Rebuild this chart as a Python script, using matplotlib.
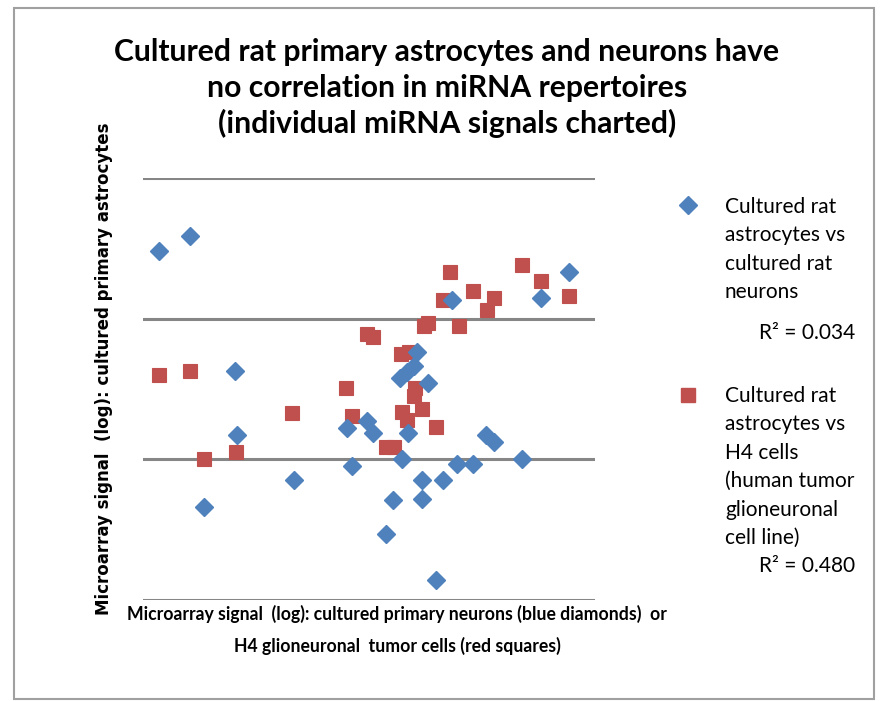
import matplotlib.pyplot as plt
from matplotlib.lines import Line2D
from matplotlib.patches import Rectangle

# neurons (blue diamonds), log signal, arbitrary units
neuron_x = [0.11, 0.33, 0.65, 0.67, 0.43, 1.07, 1.45, 1.48, 1.59, 1.63, 1.72,
            1.77, 1.84, 1.88, 1.82, 1.87, 1.92, 1.94, 2.02, 1.98, 1.98, 2.08,
            2.13, 2.19, 2.23, 2.34, 2.43, 2.49, 2.69, 2.82, 3.02]
neuron_y = [2.48, 2.59, 1.63, 1.17, 0.66, 0.85, 1.22, 0.95, 1.27, 1.19, 0.47,
            0.71, 1.00, 1.19, 1.58, 1.62, 1.66, 1.76, 1.54, 0.85, 0.72, 0.14,
            0.85, 2.13, 0.97, 0.97, 1.17, 1.12, 1.00, 2.15, 2.33]

# H4 cells (red squares)
h4_x = [0.11, 0.33, 0.43, 0.66, 1.06, 1.44, 1.48, 1.59, 1.63, 1.72, 1.78,
        1.83, 1.89, 1.93, 1.92, 1.84, 1.87, 1.98, 2.08, 1.99, 2.02, 2.13,
        2.18, 2.24, 2.34, 2.44, 2.49, 2.69, 2.82, 3.02]
h4_y = [1.60, 1.63, 1.00, 1.05, 1.33, 1.51, 1.31, 1.89, 1.87, 1.09, 1.09,
        1.75, 1.76, 1.51, 1.45, 1.34, 1.28, 1.36, 1.23, 1.95, 1.97, 2.13,
        2.33, 1.95, 2.20, 2.06, 2.15, 2.38, 2.27, 2.16]

r2_neuron = '0.034'
r2_h4 = '0.480'

title_lines = ['Cultured rat primary astrocytes and neurons have',
               'no correlation in miRNA repertoires',
               '(individual miRNA signals charted)']
xlabel_lines = ['Microarray signal  (log): cultured primary neurons (blue diamonds)  or',
                'H4 glioneuronal  tumor cells (red squares)']
ylabel = 'Microarray signal  (log): cultured primary astrocytes'
leg1_lines = ['Cultured rat', 'astrocytes vs', 'cultured rat', 'neurons']
leg2_lines = ['Cultured rat', 'astrocytes vs', 'H4 cells', '(human tumor',
              'glioneuronal', 'cell line)']

blue = '#4F81BD'
red = '#C0504D'
font = 'Lato'
W, H = 885, 701


def fx(px):
    return px / W


def fy(py):
    return 1 - py / H


fig = plt.figure(figsize=(8.85, 7.01), dpi=100)
fig.patches.append(Rectangle((fx(14), fy(699)), 860/W, 691/H, transform=fig.transFigure,
                             fill=False, edgecolor='#a0a0a0', linewidth=1.5))

ax = fig.add_axes([fx(143), fy(600), 452/W, 422/H])
for yy in [0, 1, 2, 3]:
    ax.axhline(yy, color='#868686', linewidth=2.2, zorder=1)
ax.plot(neuron_x, neuron_y, linestyle='none', marker='D', markersize=8.8,
        color=blue, markeredgecolor=blue, zorder=3)
ax.plot(h4_x, h4_y, linestyle='none', marker='s', markersize=10.5,
        color=red, markeredgecolor=red, markeredgewidth=0.8, zorder=2)
ax.set_xlim(0, 452/141)
ax.set_ylim(0, 3)
ax.set_xticks([])
ax.set_yticks([])
for s in ax.spines.values():
    s.set_visible(False)
ax.patch.set_visible(False)

# title
for i, t in enumerate(title_lines):
    fig.text(fx(447), fy(52 + 35.5*i), t, ha='center', va='center', fontsize=21.7,
             fontweight='bold', family=font)

fig.text(fx(104), fy(369), ylabel, rotation=90, ha='center', va='center',
         fontsize=12, fontweight='bold', family='DejaVu Sans')
for i, t in enumerate(xlabel_lines):
    fig.text(fx(397), fy(614 + 32*i), t, ha='center', va='center', fontsize=12.7,
             fontweight='bold', family=font)

# legend, drawn by hand
fig.add_artist(Line2D([fx(688)], [fy(205)], marker='D', markersize=8.8, color=blue,
                      linestyle='none', transform=fig.transFigure))
fig.add_artist(Line2D([fx(688)], [fy(395)], marker='s', markersize=10.5, color=red,
                      linestyle='none', transform=fig.transFigure))
for i, t in enumerate(leg1_lines):
    fig.text(fx(725), fy(207 + 28.4*i), t, ha='left', va='center', fontsize=15, family=font)
fig.text(fx(855), fy(333), 'R² = ' + r2_neuron, ha='right', va='center',
         fontsize=15, family=font)
for i, t in enumerate(leg2_lines):
    fig.text(fx(725), fy(396 + 28.4*i), t, ha='left', va='center', fontsize=15, family=font)
fig.text(fx(855), fy(566), 'R² = ' + r2_h4, ha='right', va='center',
         fontsize=15, family=font)

fig.savefig('out.png', dpi=100)
